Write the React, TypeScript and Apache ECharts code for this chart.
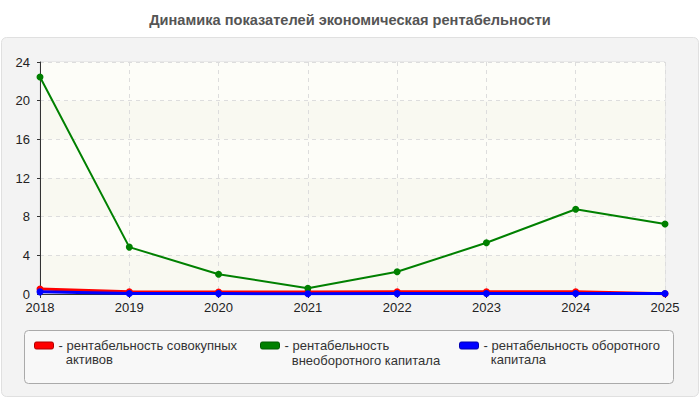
import { useEffect, useRef } from "react"
import * as echarts from "echarts"

const years = ["2018", "2019", "2020", "2021", "2022", "2023", "2024", "2025"]
const assetsReturn = [0.52, 0.22, 0.21, 0.2, 0.22, 0.22, 0.23, 0.03]
const nonCurrentReturn = [22.45, 4.85, 2.05, 0.6, 2.3, 5.3, 8.77, 7.24]
const currentReturn = [0.22, 0.05, 0.04, 0.03, 0.04, 0.05, 0.06, 0.05]

const seriesNames = [
  "рентабельность совокупных активов",
  "рентабельность внеоборотного капитала",
  "рентабельность оборотного капитала",
]
// leading empty line keeps the first text line level with the swatch
const legendLabels = [
  "\n- рентабельность совокупных\n  активов",
  "\n- рентабельность\n  внеоборотного капитала",
  "\n- рентабельность оборотного\n  капитала",
]
const colors = ["#ff0000", "#008000", "#0000ff"]
const borders = ["#b00000", "#005a00", "#0000b0"]

const font = '"Liberation Sans", Arial, sans-serif'

export default function App() {
  const chartRef = useRef<HTMLDivElement>(null)

  useEffect(() => {
    if (!chartRef.current) return
    const chart = echarts.init(chartRef.current, undefined, { renderer: "svg" })

    const legendLeft = [34, 260, 459]
    const lineH = [14, 15, 14]

    chart.setOption({
      animation: false,
      backgroundColor: "#ffffff",
      textStyle: { fontFamily: font },
      title: {
        text: "Динамика показателей экономическая рентабельности",
        left: "center",
        top: 12,
        padding: 0,
        textStyle: { fontSize: 14.6, fontWeight: "bold", color: "#555555", fontFamily: font },
      },
      graphic: [
        {
          type: "rect",
          z: -10,
          silent: true,
          shape: { x: 1.5, y: 37.5, width: 697, height: 359, r: 5 },
          style: { fill: "#f3f3f3", stroke: "#e0e0e0", lineWidth: 1 },
        },
        {
          type: "rect",
          z: -9,
          silent: true,
          shape: { x: 24.5, y: 330.5, width: 649, height: 53, r: 4 },
          style: { fill: "#f8f8f8", stroke: "#aaaaaa", lineWidth: 1 },
        },
      ],
      legend: seriesNames.map((name, i) => ({
        data: [name],
        left: legendLeft[i],
        top: 342 - (1.5 * lineH[i] - 3.5),
        padding: 0,
        itemWidth: 19,
        itemHeight: 7,
        icon: "roundRect",
        selectedMode: false,
        itemStyle: { borderColor: borders[i], borderWidth: 1 },
        formatter: () => legendLabels[i],
        textStyle: {
          fontSize: 13,
          color: "#333333",
          fontFamily: font,
          lineHeight: lineH[i],
        },
      })),
      grid: {
        left: 40,
        right: 35,
        top: 62,
        bottom: 106,
        show: true,
        backgroundColor: "#fcfcf6",
        borderColor: "#dddddd",
        borderWidth: 1,
      },
      xAxis: {
        type: "category",
        data: years,
        boundaryGap: false,
        axisLine: { lineStyle: { color: "#333333", width: 1 } },
        axisTick: { show: true, length: 4, alignWithLabel: true, lineStyle: { color: "#333333" } },
        axisLabel: { color: "#222222", fontSize: 13, margin: 7, fontFamily: font },
        splitLine: { show: true, lineStyle: { color: "#dddddd", type: [4, 4] } },
      },
      yAxis: {
        type: "value",
        min: 0,
        max: 24,
        interval: 4,
        axisLine: { show: true, lineStyle: { color: "#333333", width: 1 } },
        axisTick: { show: true, length: 3, lineStyle: { color: "#333333" } },
        axisLabel: { color: "#222222", fontSize: 13, margin: 10, fontFamily: font },
        splitLine: { show: true, lineStyle: { color: "#dddddd", type: [4, 4] } },
        splitArea: { show: true, areaStyle: { color: ["#f9f9f1", "#fdfdf8"] } },
      },
      series: [
        {
          name: seriesNames[0],
          type: "line",
          data: assetsReturn,
          color: colors[0],
          symbol: "circle",
          symbolSize: 7,
          lineStyle: { width: 3, color: colors[0] },
          itemStyle: { color: colors[0] },
          z: 2,
        },
        {
          name: seriesNames[1],
          type: "line",
          data: nonCurrentReturn,
          color: colors[1],
          symbol: "circle",
          symbolSize: 7,
          lineStyle: { width: 2, color: colors[1] },
          itemStyle: { color: colors[1] },
          z: 3,
        },
        {
          name: seriesNames[2],
          type: "line",
          data: currentReturn,
          color: colors[2],
          symbol: "circle",
          symbolSize: 7,
          lineStyle: { width: 3, color: colors[2] },
          itemStyle: { color: colors[2] },
          z: 4,
        },
      ],
    })

    return () => chart.dispose()
  }, [])

  return (
    <div
      ref={chartRef}
      style={{ position: "fixed", left: 0, top: 0, width: 700, height: 400 }}
    />
  )
}
